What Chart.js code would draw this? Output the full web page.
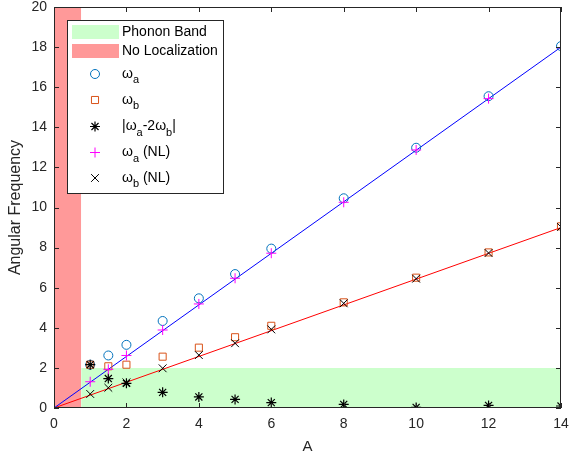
<!DOCTYPE html>
<html>
<head>
<meta charset="utf-8">
<script src="https://cdn.jsdelivr.net/npm/chart.js@4.4.0/dist/chart.umd.min.js"></script>
<style>
  html, body { margin: 0; padding: 0; background: #fff; }
  #wrap { width: 569px; height: 457px; }
</style>
</head>
<body>
<div id="wrap"><canvas id="chart" width="569" height="457"></canvas></div>
<script>
// amplitude values A (x axis)
const amplitudes = [1, 1.5, 2, 3, 4, 5, 6, 8, 10, 12, 14];
// measured frequencies
const omegaA    = [2.16, 2.62, 3.15, 4.34, 5.47, 6.68, 7.95, 10.46, 12.98, 15.55, 18.05];
const omegaB    = [2.16, 2.08, 2.16, 2.56, 3.01, 3.53, 4.10, 5.27, 6.50, 7.76, 9.06];
const omegaDiff = [2.16, 1.47, 1.23, 0.78, 0.55, 0.43, 0.27, 0.18, 0.03, 0.13, 0.10];
// nonlinear-theory predictions
const omegaANL  = [1.31, 1.93, 2.62, 3.89, 5.19, 6.47, 7.72, 10.26, 12.87, 15.43, 17.97];
const omegaBNL  = [0.70, 1.01, 1.28, 1.98, 2.64, 3.23, 3.92, 5.22, 6.45, 7.73, 9.03];
// straight reference lines
const fitX = [0, 14];
const fitA = [0, 18];
const fitB = [0, 9];
// shaded regions
const noLocX = [0, 0.75];
const noLocY = [20, 20];
const phononX = [0.75, 14];
const phononY = [2, 2];

const FONT = 'Liberation Sans, Arial, Helvetica, sans-serif';
const pts = (xs, ys) => xs.map((x, i) => ({ x, y: ys[i] }));

const markerDefaults = { showLine: false, backgroundColor: 'rgba(0,0,0,0)', borderWidth: 1 };

const datasets = [
  { label: 'Phonon Band', data: pts(phononX, phononY), showLine: true, fill: 'origin',
    backgroundColor: '#ccffcc', borderWidth: 0, pointRadius: 0, order: 10,
    legendParts: [['Phonon Band']], legendPatch: true },
  { label: 'No Localization', data: pts(noLocX, noLocY), showLine: true, fill: 'origin',
    backgroundColor: '#ff9999', borderWidth: 0, pointRadius: 0, order: 10,
    legendParts: [['No Localization']], legendPatch: true },
  { label: 'fit a', data: pts(fitX, fitA), showLine: true, borderColor: '#0000ff', borderWidth: 1, pointRadius: 0, order: 6 },
  { label: 'fit b', data: pts(fitX, fitB), showLine: true, borderColor: '#ff0000', borderWidth: 1, pointRadius: 0, order: 6 },
  { ...markerDefaults, label: 'ωa', data: pts(amplitudes, omegaA), pointStyle: 'circle', pointRadius: 4.5,
    borderColor: '#0072bd', order: 4, legendParts: [['ω'], ['a', 1]] },
  { ...markerDefaults, label: 'ωb', data: pts(amplitudes, omegaB), pointStyle: 'rect', pointRadius: 5,
    borderColor: '#d95319', order: 3, legendParts: [['ω'], ['b', 1]] },
  { ...markerDefaults, label: '|ωa-2ωb|', data: pts(amplitudes, omegaDiff), pointStyle: 'star', pointRadius: 5,
    borderColor: '#000000', borderWidth: 1.2, order: 2,
    legendParts: [['|ω'], ['a', 1], ['-2ω'], ['b', 1], ['|']] },
  { ...markerDefaults, label: 'ωa (NL)', data: pts(amplitudes, omegaANL), pointStyle: 'cross', pointRadius: 5,
    borderColor: '#ff00ff', order: 1, legendParts: [['ω'], ['a', 1], [' (NL)']] },
  { ...markerDefaults, label: 'ωb (NL)', data: pts(amplitudes, omegaBNL), pointStyle: 'crossRot', pointRadius: 5.5,
    borderColor: '#000000', order: 0, legendParts: [['ω'], ['b', 1], [' (NL)']] }
];

// MATLAB-style box with inward ticks on all four sides
const boxPlugin = {
  id: 'box',
  afterDatasetsDraw(chart) {
    const { ctx, chartArea: a, scales: { x, y } } = chart;
    ctx.save();
    ctx.strokeStyle = '#262626';
    ctx.lineWidth = 1;
    ctx.beginPath();
    x.ticks.forEach(t => {
      const px = Math.round(x.getPixelForValue(t.value)) + 0.5;
      ctx.moveTo(px, a.bottom); ctx.lineTo(px, a.bottom - 5);
      ctx.moveTo(px, a.top); ctx.lineTo(px, a.top + 5);
    });
    y.ticks.forEach(t => {
      const py = Math.round(y.getPixelForValue(t.value)) + 0.5;
      ctx.moveTo(a.left, py); ctx.lineTo(a.left + 5, py);
      ctx.moveTo(a.right, py); ctx.lineTo(a.right - 5, py);
    });
    ctx.stroke();
    ctx.strokeRect(Math.round(a.left) + 0.5, Math.round(a.top) + 0.5,
      Math.round(a.right - a.left) - 1, Math.round(a.bottom - a.top) - 1);
    ctx.restore();
  }
};

// legend with subscripts
const legendPlugin = {
  id: 'subLegend',
  afterDraw(chart) {
    const { ctx } = chart;
    const bx = 67, by = 20, bw = 156, bh = 173;
    ctx.save();
    ctx.fillStyle = '#fff';
    ctx.fillRect(bx, by, bw, bh);
    ctx.strokeStyle = '#262626';
    ctx.lineWidth = 1;
    ctx.strokeRect(bx + 0.5, by + 0.5, bw, bh);
    const rows = [32, 51, 74, 100, 126.5, 152.5, 178];
    const items = chart.data.datasets.filter(d => d.legendParts);
    items.forEach((d, i) => {
      const cy = rows[i];
      if (d.legendPatch) {
        ctx.fillStyle = d.backgroundColor;
        ctx.fillRect(72, cy - 7, 47, 14);
      } else {
        ctx.strokeStyle = d.borderColor;
        ctx.lineWidth = d.borderWidth;
        ctx.fillStyle = 'rgba(0,0,0,0)';
        Chart.helpers.drawPoint(ctx, {
          pointStyle: d.pointStyle, radius: d.pointRadius, borderWidth: d.borderWidth, rotation: 0
        }, 95, cy);
      }
      let tx = 122;
      ctx.fillStyle = '#000';
      ctx.textBaseline = 'middle';
      ctx.textAlign = 'left';
      d.legendParts.forEach(([s, sub]) => {
        ctx.font = (sub ? '11px ' : '14px ') + FONT;
        ctx.fillText(s, tx, sub ? cy + 6 : cy);
        tx += ctx.measureText(s).width;
      });
    });
    ctx.restore();
  }
};

const tickStyle = { color: '#262626', font: { family: FONT, size: 14 } };

new Chart(document.getElementById('chart'), {
  type: 'scatter',
  data: { datasets },
  options: {
    responsive: false,
    animation: false,
    layout: { padding: { top: 7, right: 8, left: 0, bottom: 0 } },
    plugins: { legend: { display: false }, tooltip: { enabled: false } },
    scales: {
      x: {
        type: 'linear', min: 0, max: 14,
        afterFit: s => { s.height = 49; s.paddingLeft = 0; s.paddingRight = 0; },
        ticks: { ...tickStyle, stepSize: 2, padding: 8, maxRotation: 0 },
        grid: { display: false, drawTicks: false },
        border: { display: false },
        title: { display: true, text: 'A', color: '#262626', font: { family: FONT, size: 15 }, padding: { top: 0, bottom: 1 } }
      },
      y: {
        type: 'linear', min: 0, max: 20,
        afterFit: s => { s.width = 54; s.paddingTop = 0; s.paddingBottom = 0; },
        ticks: { ...tickStyle, stepSize: 2, padding: 7 },
        grid: { display: false, drawTicks: false },
        border: { display: false },
        title: { display: true, text: 'Angular Frequency', color: '#262626', font: { family: FONT, size: 16 }, padding: { top: 6, bottom: 0 } }
      }
    }
  },
  plugins: [boxPlugin, legendPlugin]
});
</script>
</body>
</html>
